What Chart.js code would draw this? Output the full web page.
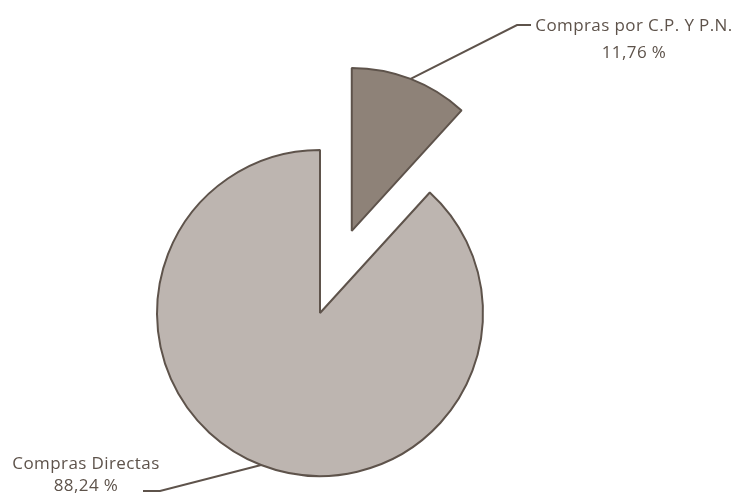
<!DOCTYPE html>
<html>
<head>
<meta charset="utf-8">
<script src="https://cdn.jsdelivr.net/npm/chart.js@4.4.0/dist/chart.umd.min.js"></script>
<style>
  body { margin: 0; background: #fff; }
  #wrap { width: 737px; height: 500px; position: relative; }
</style>
</head>
<body>
<div id="wrap"><canvas id="myChart"></canvas></div>
<script>
'use strict';

const categories = ['Compras por C.P. Y P.N.', 'Compras Directas'];
const shares = [11.76, 88.24];
// pulled-out distance of each slice, in px
const pullOut = [88, 0];

const fillColors = ['#8e8278', '#bdb5b0'];
const edgeColor = '#5e534b';
const textColor = '#5e534b';

// where each leader line bends and where its text sits
const labelSpots = [
  { elbowX: 517, elbowY: 25, tickX: 531, textX: 634, y1: 26, y2: 53 },
  { elbowX: 160, elbowY: 491, tickX: 143, textX: 86, y1: 464, y2: 486 }
];

function fmtShare(v) {
  return v.toFixed(2).replace('.', ',') + ' %';
}

// move exploded slices out without growing them (built-in offset also enlarges the arc)
const explodeSlices = {
  id: 'explodeSlices',
  afterDatasetUpdate(chart, args) {
    let arcs = chart.getDatasetMeta(args.index).data;
    arcs.forEach((arc, i) => {
      if (!pullOut[i]) return;
      let mid = (arc.startAngle + arc.endAngle) / 2;
      arc.x += Math.cos(mid) * pullOut[i];
      arc.y += Math.sin(mid) * pullOut[i];
    });
  }
};

const leaderLabels = {
  id: 'leaderLabels',
  afterDatasetsDraw(chart) {
    let ctx = chart.ctx;
    let arcs = chart.getDatasetMeta(0).data;
    ctx.save();
    arcs.forEach((arc, i) => {
      let spot = labelSpots[i];
      let mid = (arc.startAngle + arc.endAngle) / 2;
      let ax = arc.x + Math.cos(mid) * arc.outerRadius;
      let ay = arc.y + Math.sin(mid) * arc.outerRadius;

      ctx.strokeStyle = edgeColor;
      ctx.lineWidth = 2;
      ctx.beginPath();
      ctx.moveTo(ax, ay);
      ctx.lineTo(spot.elbowX, spot.elbowY);
      ctx.lineTo(spot.tickX, spot.elbowY);
      ctx.stroke();

      ctx.fillStyle = textColor;
      ctx.font = '17px "Open Sans"';
      ctx.letterSpacing = '0.4px';
      ctx.textAlign = 'center';
      ctx.textBaseline = 'middle';
      ctx.fillText(categories[i], spot.textX, spot.y1);
      ctx.fillText(fmtShare(shares[i]), spot.textX, spot.y2);
    });
    ctx.restore();
  }
};

let ctx = document.getElementById('myChart');

new Chart(ctx, {
  type: 'pie',
  data: {
    labels: categories,
    datasets: [{
      data: shares,
      backgroundColor: fillColors,
      borderColor: edgeColor,
      borderWidth: 2
    }]
  },
  options: {
    responsive: true,
    maintainAspectRatio: false,
    animation: false,
    radius: 163,
    layout: {
      padding: { top: 126, right: 97, left: 0, bottom: 0 }
    },
    plugins: {
      legend: { display: false },
      tooltip: { enabled: false }
    }
  },
  plugins: [explodeSlices, leaderLabels]
});
</script>
</body>
</html>
